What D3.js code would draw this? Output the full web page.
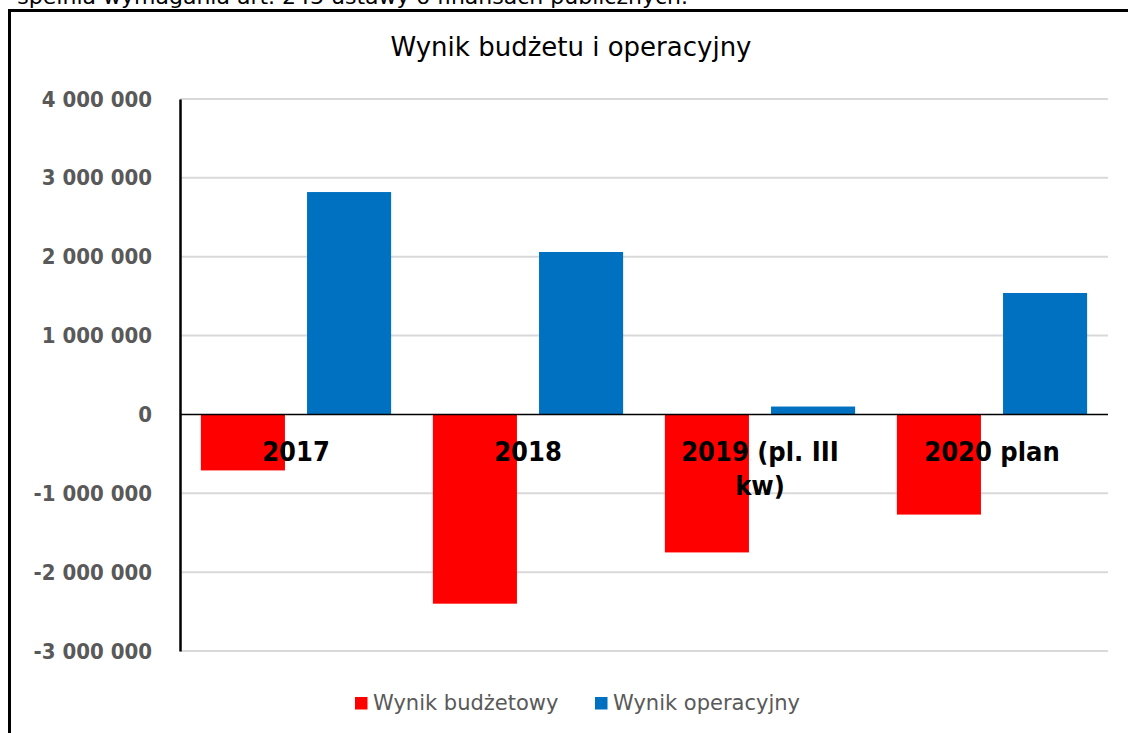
<!DOCTYPE html>
<html>
<head>
<meta charset="utf-8">
<script src="https://cdn.jsdelivr.net/npm/d3@7"></script>
<style>
body { margin: 0; background: #fff; }
svg text { font-family: "DejaVu Sans Condensed", "DejaVu Sans", sans-serif; font-stretch: condensed; }
svg text.wide { font-family: "DejaVu Sans", sans-serif; font-stretch: normal; }
</style>
</head>
<body>
<div id="chart-area"></div>
<script>
// data
var categories = ["2017", "2018", "2019 (pl. III kw)", "2020 plan"];
var categoryLines = [["2017"], ["2018"], ["2019 (pl. III", "kw)"], ["2020 plan"]];
var seriesNames = ["Wynik budżetowy", "Wynik operacyjny"];
var wynikBudzetowy = [-710000, -2400000, -1750000, -1270000];
var wynikOperacyjny = [2820000, 2060000, 100000, 1540000];
var yTicks = [-3000000, -2000000, -1000000, 0, 1000000, 2000000, 3000000, 4000000];
var colors = ["#ff0000", "#0070c0"];

var svg = d3.select("#chart-area").append("svg")
    .attr("width", 1128)
    .attr("height", 733);

// text cut off above the chart
svg.append("text")
    .attr("class", "wide")
    .attr("x", 688).attr("y", 4)
    .attr("text-anchor", "end")
    .style("font-size", "22px")
    .attr("fill", "#000")
    .text("spełnia wymagania art. 243 ustawy o finansach publicznych.");

// chart frame
svg.append("rect")
    .attr("x", 9.5).attr("y", 10.5)
    .attr("width", 1140).attr("height", 740)
    .attr("fill", "#fff")
    .attr("stroke", "#000")
    .attr("stroke-width", 3);

svg.append("text")
    .attr("class", "wide")
    .attr("x", 571).attr("y", 56)
    .attr("text-anchor", "middle")
    .style("font-size", "26px")
    .attr("fill", "#000")
    .text("Wynik budżetu i operacyjny");

var x0 = d3.scaleBand()
    .domain(categories)
    .range([180, 1108])
    .paddingInner(0.18)
    .paddingOuter(0.09);

var x1 = d3.scaleBand()
    .domain(seriesNames)
    .range([0, x0.bandwidth()])
    .paddingInner(0.208);

var y = d3.scaleLinear()
    .domain([-3000000, 4000000])
    .range([651, 99]);

var pl = d3.formatLocale({decimal: ",", thousands: " ", grouping: [3], currency: ["", " zł"], minus: "-"});
var fmt = pl.format(",.0f");

// gridlines
svg.append("g").selectAll("line")
    .data(yTicks.filter((d) => d != 0))
    .enter().append("line")
    .attr("x1", 180).attr("x2", 1108)
    .attr("y1", (d) => y(d)).attr("y2", (d) => y(d))
    .attr("stroke", "#d9d9d9")
    .attr("stroke-width", 2);

// y axis
var yAxis = svg.append("g")
    .attr("transform", "translate(180,0)")
    .call(d3.axisLeft(y).tickValues(yTicks).tickFormat(fmt).tickSize(0).tickPadding(28));
yAxis.select(".domain").attr("stroke", "#000").attr("stroke-width", 2.5);
yAxis.selectAll("text")
    .style("font-size", "22px")
    .style("font-weight", "bold")
    .attr("fill", "#595959");

var rows = categories.map((c, i) => [
    {cat: c, name: seriesNames[0], value: wynikBudzetowy[i]},
    {cat: c, name: seriesNames[1], value: wynikOperacyjny[i]}
]);

svg.append("g").selectAll("g")
    .data(rows)
    .enter().append("g")
    .attr("transform", (d) => "translate(" + x0(d[0].cat) + ",0)")
    .selectAll("rect")
    .data((d) => d)
    .enter().append("rect")
        .attr("x", (d) => x1(d.name))
        .attr("y", (d) => y(Math.max(0, d.value)))
        .attr("width", x1.bandwidth())
        .attr("height", (d) => Math.abs(y(d.value) - y(0)))
        .attr("fill", (d, i) => colors[i]);

// zero line
svg.append("line")
    .attr("x1", 180).attr("x2", 1108)
    .attr("y1", y(0)).attr("y2", y(0))
    .attr("stroke", "#000")
    .attr("stroke-width", 1.5);

// category labels next to the axis
var catText = svg.append("g").selectAll("text")
    .data(categories)
    .enter().append("text")
    .attr("x", (d) => x0(d) + x0.bandwidth() / 2)
    .attr("y", 461)
    .attr("text-anchor", "middle")
    .style("font-size", "27px")
    .style("font-weight", "bold")
    .attr("fill", "#000");
catText.selectAll("tspan")
    .data((d, i) => categoryLines[i])
    .enter().append("tspan")
    .attr("x", function () { return d3.select(this.parentNode).attr("x"); })
    .attr("dy", (d, i) => i == 0 ? 0 : 34)
    .text((d) => d);

// legend
var legendX = [355, 595];
var legend = svg.append("g").selectAll("g")
    .data(seriesNames)
    .enter().append("g")
    .attr("transform", (d, i) => "translate(" + legendX[i] + ",697)");
legend.append("rect")
    .attr("width", 12.5).attr("height", 12.5)
    .attr("fill", (d, i) => colors[i]);
legend.append("text")
    .attr("class", "wide")
    .attr("x", 18).attr("y", 13)
    .style("font-size", "21px")
    .attr("fill", "#595959")
    .text((d) => d);
</script>
</body>
</html>
